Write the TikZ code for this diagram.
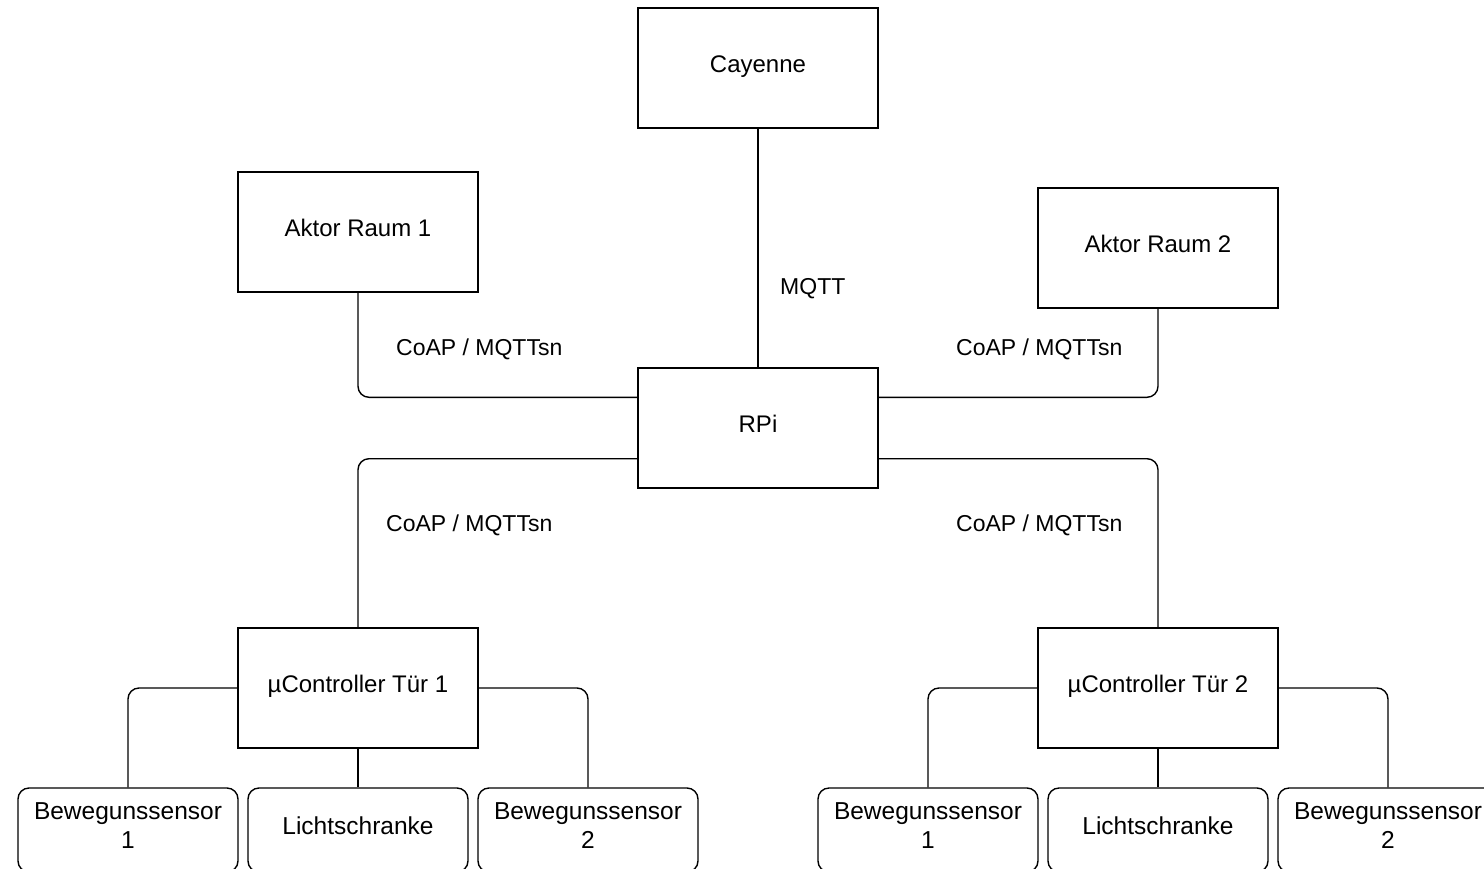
\documentclass[tikz,border=0pt]{standalone}
\usepackage{fontspec}
\setmainfont{Liberation Sans}
\begin{document}
\begin{tikzpicture}[x=1pt,y=-1pt,
  box/.style={draw=black,line width=1.4pt,fill=white,minimum width=240pt,minimum height=120pt,inner sep=0pt,
    font=\fontsize{24}{29}\selectfont,text height=0.89em,text depth=0em},
  leaf/.style={draw=black,line width=1.4pt,fill=white,rounded corners=11pt,minimum width=220pt,minimum height=84pt,
    inner sep=0pt,align=center,font=\fontsize{24.5}{29}\selectfont,text depth=8pt},
  conn/.style={draw=black,line width=1.4pt,rounded corners=11pt},
  lbl/.style={anchor=west,inner sep=0pt,font=\fontsize{23}{28}\selectfont,text height=0.72em,text depth=0.21em}]
\useasboundingbox (0,0) rectangle (1484,868);
\clip (0,0) rectangle (1484,868);
\fill[white] (0,0) rectangle (1484,868);

\node[box] (cay) at (758,68) {Cayenne};
\node[box] (a1) at (358,232) {Aktor Raum 1};
\node[box] (a2) at (1158,248) {Aktor Raum 2};
\node[box] (rpi) at (758,428) {RPi};
\node[box] (u1) at (358,688) {µController Tür 1};
\node[box] (u2) at (1158,688) {µController Tür 2};

\node[leaf] (b11) at (128,830) {Bewegunssensor\\1};
\node[leaf] (l1) at (358,830) {Lichtschranke};
\node[leaf] (b12) at (588,830) {Bewegunssensor\\2};
\node[leaf] (b21) at (928,830) {Bewegunssensor\\1};
\node[leaf] (l2) at (1158,830) {Lichtschranke};
\node[leaf] (b22) at (1388,830) {Bewegunssensor\\2};

\draw[conn] (cay.south) -- (rpi.north);
\draw[conn] (a1.south) |- ([yshift=-30pt]rpi.north west);
\draw[conn] (a2.south) |- ([yshift=-30pt]rpi.north east);
\draw[conn] ([yshift=30pt]rpi.south west) -| (u1.north);
\draw[conn] ([yshift=30pt]rpi.south east) -| (u2.north);

\draw[conn] (u1.west) -| (b11.north);
\draw[conn] (u1.south) -- (l1.north);
\draw[conn] (u1.east) -| (b12.north);
\draw[conn] (u2.west) -| (b21.north);
\draw[conn] (u2.south) -- (l2.north);
\draw[conn] (u2.east) -| (b22.north);

\node[lbl] (mqtt) at (780,292) {MQTT};
\node[lbl] (c1) at (396,353) {CoAP / MQTTsn};
\node[lbl] (c2) at (956,353) {CoAP / MQTTsn};
\node[lbl] (c3) at (386,529) {CoAP / MQTTsn};
\node[lbl] (c4) at (956,529) {CoAP / MQTTsn};
\end{tikzpicture}
\end{document}
